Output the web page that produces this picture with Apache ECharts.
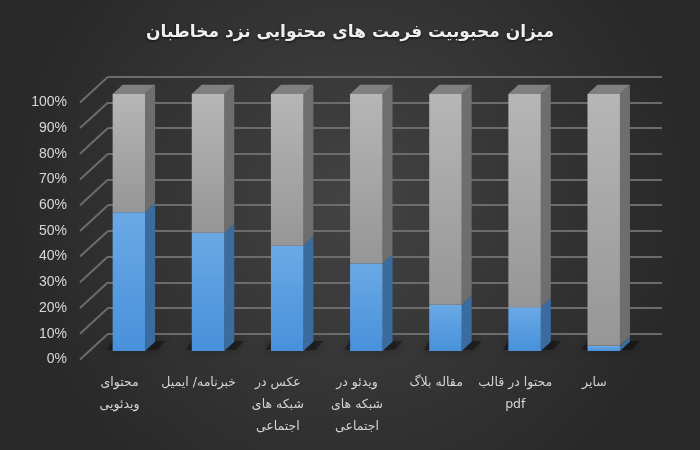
<!DOCTYPE html>
<html><head><meta charset="utf-8">
<script src="https://cdn.jsdelivr.net/npm/echarts@6/dist/echarts.min.js"></script>
<style>html,body{margin:0;padding:0;background:#2a2a2a}#c{width:700px;height:450px}</style>
</head><body><div id="c"></div>
<script>
const titleText = 'میزان محبوبیت فرمت های محتوایی نزد مخاطبان';
const categories = ['محتوای\nویدئویی', 'خبرنامه/ ایمیل', 'عکس در\nشبکه های\nاجتماعی', 'ویدئو در\nشبکه های\nاجتماعی', 'مقاله بلاگ', 'محتوا در قالب\npdf', 'سایر'];
const blueValues = [54, 46, 41, 34, 18, 17, 2];
const grayValues = [46, 54, 59, 66, 82, 83, 98];
const yTicks = [0, 10, 20, 30, 40, 50, 60, 70, 80, 90, 100];

// geometry of the fake 3D projection (style constants)
const BACK = {left: 108, right: 38, top: 76.7, bottom: 116.3};
const WALL = [28, -25.7];        // full depth vector of the side wall
const BAR_SHIFT = [-18.7, 17.3]; // bar front plane relative to back wall
const BAR_DEPTH = [10, -9.3];

const chart = echarts.init(document.getElementById('c'));

const barData = categories.map((c, i) => [i, blueValues[i], grayValues[i]]);
const tickData = yTicks.map(v => [0, v]);

function vgrad(top, bottom) {
  return new echarts.graphic.LinearGradient(0, 0, 0, 1, [{offset: 0, color: top}, {offset: 1, color: bottom}]);
}

chart.setOption({
  backgroundColor: {
    type: 'radial', x: 0.5, y: 0.45, r: 0.75,
    colorStops: [{offset: 0, color: '#434343'}, {offset: 1, color: '#292929'}]
  },
  title: {
    text: titleText, left: 'center', top: 19,
    textStyle: {color: '#efefef', fontSize: 17, fontWeight: 'bold', fontFamily: 'DejaVu Sans',
                textShadowColor: 'rgba(0,0,0,0.7)', textShadowBlur: 3, textShadowOffsetY: 1}
  },
  grid: [
    {left: BACK.left, right: BACK.right, top: BACK.top, bottom: BACK.bottom},
    {left: BACK.left - WALL[0], right: BACK.right + WALL[0], top: BACK.top - WALL[1], bottom: BACK.bottom + WALL[1]}
  ],
  xAxis: [
    {type: 'category', gridIndex: 0, data: categories, axisLine: {show: false}, axisTick: {show: false}, axisLabel: {show: false}},
    {type: 'category', gridIndex: 1, data: categories, axisLine: {show: false}, axisTick: {show: false},
     axisLabel: {color: '#d4d4d4', fontSize: 12.5, lineHeight: 22, margin: 12, fontFamily: 'DejaVu Sans', interval: 0}}
  ],
  yAxis: [
    {type: 'value', gridIndex: 0, min: 0, max: 100, interval: 10, axisLabel: {show: false},
     axisLine: {show: false}, axisTick: {show: false},
     splitLine: {show: true, lineStyle: {color: '#6c6c6c', width: 2}}},
    {type: 'value', gridIndex: 1, min: 0, max: 100, interval: 10,
     axisLine: {show: false}, axisTick: {show: false}, splitLine: {show: false},
     axisLabel: {formatter: '{value}%', color: '#d8d8d8', fontSize: 14, margin: 13, fontFamily: 'Liberation Sans'}}
  ],
  series: [
    {
      type: 'custom', xAxisIndex: 0, yAxisIndex: 0, data: tickData, silent: true, z: 1,
      encode: {x: 0, y: 1},
      renderItem(params, api) {
        const p = api.coord([0, api.value(1)]);
        const x = params.coordSys.x;
        return {type: 'line', shape: {x1: x, y1: p[1], x2: x - WALL[0], y2: p[1] - WALL[1]},
                style: {stroke: '#6c6c6c', lineWidth: 2}};
      }
    },
    {
      type: 'custom', xAxisIndex: 0, yAxisIndex: 0, data: barData, z: 3,
      encode: {x: 0, y: [1, 2]},
      renderItem(params, api) {
        const i = api.value(0), b = api.value(1), g = api.value(2);
        const p0 = api.coord([i, 0]), pb = api.coord([i, b]), pt = api.coord([i, b + g]);
        const bw = api.size([1, 0])[0] * 0.41;
        const xl = p0[0] + BAR_SHIFT[0] - bw / 2, xr = xl + bw;
        const y0 = p0[1] + BAR_SHIFT[1], yb = pb[1] + BAR_SHIFT[1], yt = pt[1] + BAR_SHIFT[1];
        const dx = BAR_DEPTH[0], dy = BAR_DEPTH[1];
        const side = (ya, yb2, fill) => ({type: 'polygon',
          shape: {points: [[xr, ya], [xr + dx, ya + dy], [xr + dx, yb2 + dy], [xr, yb2]]}, style: {fill}});
        return {type: 'group', children: [
          {type: 'polygon', shape: {points: [[xl - 6, y0 - 1], [xr + 12, y0 - 1], [xr + 20, y0 - 10], [xl, y0 - 10]]},
           style: {fill: 'rgba(0,0,0,0.35)', shadowBlur: 12, shadowColor: 'rgba(0,0,0,0.9)'}},
          side(yb, y0, '#3b6c9f'),
          {type: 'rect', shape: {x: xl, y: yb, width: bw, height: y0 - yb}, style: {fill: vgrad('#6aa9e6', '#4891da')}},
          side(yt, yb, '#6e6e6e'),
          {type: 'rect', shape: {x: xl, y: yt, width: bw, height: yb - yt}, style: {fill: vgrad('#b6b6b6', '#969696')}},
          {type: 'polygon', shape: {points: [[xl, yt], [xr, yt], [xr + dx, yt + dy], [xl + dx, yt + dy]]}, style: {fill: '#808080'}}
        ]};
      }
    }
  ]
});
</script></body></html>
